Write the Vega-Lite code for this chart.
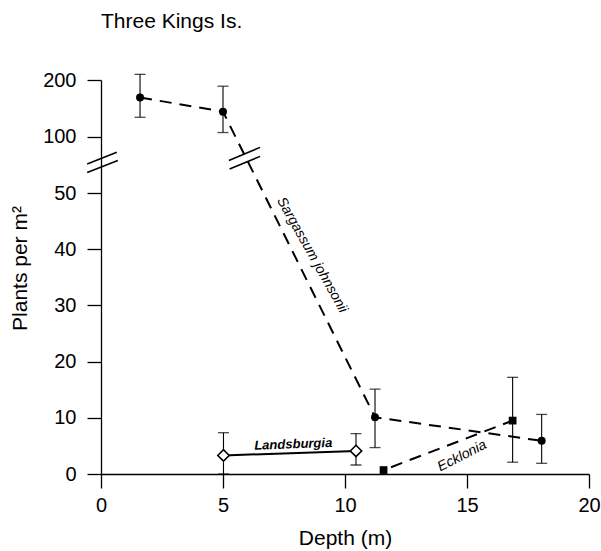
{
  "$schema": "https://vega.github.io/schema/vega-lite/v6.json",
  "autosize": {"type": "none"},
  "padding": {"left": 101, "top": 80, "right": 12, "bottom": 77},
  "width": 488,
  "height": 394,
  "title": {"text": "Three Kings Is.", "anchor": "start", "frame": "group", "fontSize": 21, "fontWeight": "normal", "font": "Liberation Sans", "color": "black", "baseline": "alphabetic", "offset": 21},
  "config": {
    "view": {"stroke": null},
    "font": "Liberation Sans",
    "axis": {"grid": false, "domainColor": "black", "tickColor": "black", "labelColor": "black", "titleColor": "black", "domainWidth": 1.3, "tickWidth": 1.3, "tickSize": 14, "labelFontSize": 20, "titleFontSize": 21, "titleFontWeight": "normal", "labelFont": "Liberation Sans", "titleFont": "Liberation Sans", "labelFlush": false, "labelOverlap": false}
  },
  "datasets": {
    "obs": [
      {"species": "Sargassum johnsonii", "depth": 1.6, "value": 169, "lo": 134, "hi": 210},
      {"species": "Sargassum johnsonii", "depth": 5.0, "value": 144, "lo": 107, "hi": 189},
      {"species": "Sargassum johnsonii", "depth": 11.23, "value": 10.1, "lo": 4.7, "hi": 15.1},
      {"species": "Sargassum johnsonii", "depth": 18.06, "value": 5.9, "lo": 1.9, "hi": 10.6},
      {"species": "Ecklonia", "depth": 11.58, "value": 0.7, "lo": null, "hi": null},
      {"species": "Ecklonia", "depth": 16.87, "value": 9.5, "lo": 2.1, "hi": 17.2},
      {"species": "Landsburgia", "depth": 5.02, "value": 3.3, "lo": 0, "hi": 7.35},
      {"species": "Landsburgia", "depth": 10.45, "value": 4.1, "lo": 1.6, "hi": 7.2}
    ],
    "breaks": [
      {"depth": -0.566, "value": 75.6, "depth2": 0.648, "value2": 86.0},
      {"depth": -0.566, "value": 68.1, "depth2": 0.689, "value2": 78.8},
      {"depth": 5.24, "value": 78.8, "depth2": 6.52, "value2": 90.4},
      {"depth": 5.27, "value": 71.2, "depth2": 6.52, "value2": 82.4}
    ]
  },
  "layer": [
    {
      "data": {"name": "obs"},
      "transform": [{"filter": "datum.hi != null"}],
      "mark": {"type": "rule", "color": "black", "strokeWidth": 1.1},
      "encoding": {
        "x": {"field": "depth", "type": "quantitative", "scale": {"domain": [0, 20], "nice": false, "zero": false}, "axis": {"values": [0, 5, 10, 15, 20], "title": "Depth (m)", "labelPadding": 7, "titlePadding": 12}},
        "y": {"field": "lo", "type": "quantitative", "scale": {"domain": [0, 50, 100, 200], "range": [394, 113, 56.5, 0], "nice": false, "zero": false}, "axis": {"values": [0, 10, 20, 30, 40, 50, 100, 200], "title": "Plants per m²", "labelPadding": 11, "titlePadding": 12.5, "titleY": 188}},
        "y2": {"field": "hi"}
      }
    },
    {
      "data": {"name": "obs"},
      "transform": [{"filter": "datum.hi != null"}],
      "mark": {"type": "tick", "orient": "horizontal", "color": "black", "size": 11, "thickness": 1.3},
      "encoding": {
        "x": {"field": "depth", "type": "quantitative", "scale": {"domain": [0, 20], "nice": false, "zero": false}, "axis": {"values": [0, 5, 10, 15, 20], "title": "Depth (m)", "labelPadding": 7, "titlePadding": 12}},
        "y": {"field": "hi", "type": "quantitative", "scale": {"domain": [0, 50, 100, 200], "range": [394, 113, 56.5, 0], "nice": false, "zero": false}, "axis": {"values": [0, 10, 20, 30, 40, 50, 100, 200], "title": "Plants per m²", "labelPadding": 11, "titlePadding": 12.5, "titleY": 188}}
      }
    },
    {
      "data": {"name": "obs"},
      "transform": [{"filter": "datum.lo != null"}],
      "mark": {"type": "tick", "orient": "horizontal", "color": "black", "size": 11, "thickness": 1.3},
      "encoding": {
        "x": {"field": "depth", "type": "quantitative", "scale": {"domain": [0, 20], "nice": false, "zero": false}, "axis": {"values": [0, 5, 10, 15, 20], "title": "Depth (m)", "labelPadding": 7, "titlePadding": 12}},
        "y": {"field": "lo", "type": "quantitative", "scale": {"domain": [0, 50, 100, 200], "range": [394, 113, 56.5, 0], "nice": false, "zero": false}, "axis": {"values": [0, 10, 20, 30, 40, 50, 100, 200], "title": "Plants per m²", "labelPadding": 11, "titlePadding": 12.5, "titleY": 188}}
      }
    },
    {
      "data": {"name": "obs"},
      "transform": [{"filter": "datum.species == 'Sargassum johnsonii'"}],
      "mark": {"type": "line", "color": "black", "strokeWidth": 2, "strokeDash": [12, 8]},
      "encoding": {
        "x": {"field": "depth", "type": "quantitative", "scale": {"domain": [0, 20], "nice": false, "zero": false}, "axis": {"values": [0, 5, 10, 15, 20], "title": "Depth (m)", "labelPadding": 7, "titlePadding": 12}},
        "y": {"field": "value", "type": "quantitative", "scale": {"domain": [0, 50, 100, 200], "range": [394, 113, 56.5, 0], "nice": false, "zero": false}, "axis": {"values": [0, 10, 20, 30, 40, 50, 100, 200], "title": "Plants per m²", "labelPadding": 11, "titlePadding": 12.5, "titleY": 188}},
        "order": {"field": "depth", "type": "quantitative"}
      }
    },
    {
      "data": {"name": "obs"},
      "transform": [{"filter": "datum.species == 'Ecklonia'"}],
      "mark": {"type": "line", "color": "black", "strokeWidth": 2, "strokeDash": [12, 8], "strokeDashOffset": -8},
      "encoding": {
        "x": {"field": "depth", "type": "quantitative", "scale": {"domain": [0, 20], "nice": false, "zero": false}, "axis": {"values": [0, 5, 10, 15, 20], "title": "Depth (m)", "labelPadding": 7, "titlePadding": 12}},
        "y": {"field": "value", "type": "quantitative", "scale": {"domain": [0, 50, 100, 200], "range": [394, 113, 56.5, 0], "nice": false, "zero": false}, "axis": {"values": [0, 10, 20, 30, 40, 50, 100, 200], "title": "Plants per m²", "labelPadding": 11, "titlePadding": 12.5, "titleY": 188}},
        "order": {"field": "depth", "type": "quantitative"}
      }
    },
    {
      "data": {"name": "obs"},
      "transform": [{"filter": "datum.species == 'Landsburgia'"}],
      "mark": {"type": "line", "color": "black", "strokeWidth": 2},
      "encoding": {
        "x": {"field": "depth", "type": "quantitative", "scale": {"domain": [0, 20], "nice": false, "zero": false}, "axis": {"values": [0, 5, 10, 15, 20], "title": "Depth (m)", "labelPadding": 7, "titlePadding": 12}},
        "y": {"field": "value", "type": "quantitative", "scale": {"domain": [0, 50, 100, 200], "range": [394, 113, 56.5, 0], "nice": false, "zero": false}, "axis": {"values": [0, 10, 20, 30, 40, 50, 100, 200], "title": "Plants per m²", "labelPadding": 11, "titlePadding": 12.5, "titleY": 188}},
        "order": {"field": "depth", "type": "quantitative"}
      }
    },
    {
      "data": {"name": "obs"},
      "transform": [{"filter": "datum.species == 'Sargassum johnsonii'"}],
      "mark": {"type": "point", "shape": "circle", "filled": true, "color": "black", "opacity": 1, "size": 64},
      "encoding": {
        "x": {"field": "depth", "type": "quantitative", "scale": {"domain": [0, 20], "nice": false, "zero": false}, "axis": {"values": [0, 5, 10, 15, 20], "title": "Depth (m)", "labelPadding": 7, "titlePadding": 12}},
        "y": {"field": "value", "type": "quantitative", "scale": {"domain": [0, 50, 100, 200], "range": [394, 113, 56.5, 0], "nice": false, "zero": false}, "axis": {"values": [0, 10, 20, 30, 40, 50, 100, 200], "title": "Plants per m²", "labelPadding": 11, "titlePadding": 12.5, "titleY": 188}}
      }
    },
    {
      "data": {"name": "obs"},
      "transform": [{"filter": "datum.species == 'Ecklonia'"}],
      "mark": {"type": "point", "shape": "square", "filled": true, "color": "black", "opacity": 1, "size": 60},
      "encoding": {
        "x": {"field": "depth", "type": "quantitative", "scale": {"domain": [0, 20], "nice": false, "zero": false}, "axis": {"values": [0, 5, 10, 15, 20], "title": "Depth (m)", "labelPadding": 7, "titlePadding": 12}},
        "y": {"field": "value", "type": "quantitative", "scale": {"domain": [0, 50, 100, 200], "range": [394, 113, 56.5, 0], "nice": false, "zero": false}, "axis": {"values": [0, 10, 20, 30, 40, 50, 100, 200], "title": "Plants per m²", "labelPadding": 11, "titlePadding": 12.5, "titleY": 188}}
      }
    },
    {
      "data": {"name": "obs"},
      "transform": [{"filter": "datum.species == 'Landsburgia'"}],
      "mark": {"type": "point", "shape": "diamond", "filled": true, "fill": "white", "stroke": "black", "strokeWidth": 1.6, "opacity": 1, "size": 130},
      "encoding": {
        "x": {"field": "depth", "type": "quantitative", "scale": {"domain": [0, 20], "nice": false, "zero": false}, "axis": {"values": [0, 5, 10, 15, 20], "title": "Depth (m)", "labelPadding": 7, "titlePadding": 12}},
        "y": {"field": "value", "type": "quantitative", "scale": {"domain": [0, 50, 100, 200], "range": [394, 113, 56.5, 0], "nice": false, "zero": false}, "axis": {"values": [0, 10, 20, 30, 40, 50, 100, 200], "title": "Plants per m²", "labelPadding": 11, "titlePadding": 12.5, "titleY": 188}}
      }
    },
    {
      "data": {"name": "breaks"},
      "mark": {"type": "rule", "color": "black", "strokeWidth": 1.5},
      "encoding": {
        "x": {"field": "depth", "type": "quantitative", "scale": {"domain": [0, 20], "nice": false, "zero": false}, "axis": {"values": [0, 5, 10, 15, 20], "title": "Depth (m)", "labelPadding": 7, "titlePadding": 12}},
        "y": {"field": "value", "type": "quantitative", "scale": {"domain": [0, 50, 100, 200], "range": [394, 113, 56.5, 0], "nice": false, "zero": false}, "axis": {"values": [0, 10, 20, 30, 40, 50, 100, 200], "title": "Plants per m²", "labelPadding": 11, "titlePadding": 12.5, "titleY": 188}},
        "x2": {"field": "depth2"},
        "y2": {"field": "value2"}
      }
    },
    {
      "data": {"values": [{"depth": 8.65, "value": 38.97, "label": "Sargassum johnsonii"}]},
      "mark": {"type": "text", "font": "Liberation Sans", "fontStyle": "italic", "fontSize": 14, "angle": 60.7, "align": "center", "baseline": "middle", "color": "black"},
      "encoding": {
        "x": {"field": "depth", "type": "quantitative", "scale": {"domain": [0, 20], "nice": false, "zero": false}, "axis": {"values": [0, 5, 10, 15, 20], "title": "Depth (m)", "labelPadding": 7, "titlePadding": 12}},
        "y": {"field": "value", "type": "quantitative", "scale": {"domain": [0, 50, 100, 200], "range": [394, 113, 56.5, 0], "nice": false, "zero": false}, "axis": {"values": [0, 10, 20, 30, 40, 50, 100, 200], "title": "Plants per m²", "labelPadding": 11, "titlePadding": 12.5, "titleY": 188}},
        "text": {"field": "label"}
      }
    },
    {
      "data": {"values": [{"depth": 7.88, "value": 5.28, "label": "Landsburgia"}]},
      "mark": {"type": "text", "font": "Liberation Sans", "fontStyle": "italic", "fontWeight": "bold", "fontSize": 13, "angle": -2, "align": "center", "baseline": "middle", "color": "black"},
      "encoding": {
        "x": {"field": "depth", "type": "quantitative", "scale": {"domain": [0, 20], "nice": false, "zero": false}, "axis": {"values": [0, 5, 10, 15, 20], "title": "Depth (m)", "labelPadding": 7, "titlePadding": 12}},
        "y": {"field": "value", "type": "quantitative", "scale": {"domain": [0, 50, 100, 200], "range": [394, 113, 56.5, 0], "nice": false, "zero": false}, "axis": {"values": [0, 10, 20, 30, 40, 50, 100, 200], "title": "Plants per m²", "labelPadding": 11, "titlePadding": 12.5, "titleY": 188}},
        "text": {"field": "label"}
      }
    },
    {
      "data": {"values": [{"depth": 14.8, "value": 3.2, "label": "Ecklonia"}]},
      "mark": {"type": "text", "font": "Liberation Sans", "fontStyle": "italic", "fontSize": 14, "angle": -27, "align": "center", "baseline": "middle", "color": "black"},
      "encoding": {
        "x": {"field": "depth", "type": "quantitative", "scale": {"domain": [0, 20], "nice": false, "zero": false}, "axis": {"values": [0, 5, 10, 15, 20], "title": "Depth (m)", "labelPadding": 7, "titlePadding": 12}},
        "y": {"field": "value", "type": "quantitative", "scale": {"domain": [0, 50, 100, 200], "range": [394, 113, 56.5, 0], "nice": false, "zero": false}, "axis": {"values": [0, 10, 20, 30, 40, 50, 100, 200], "title": "Plants per m²", "labelPadding": 11, "titlePadding": 12.5, "titleY": 188}},
        "text": {"field": "label"}
      }
    }
  ]
}
